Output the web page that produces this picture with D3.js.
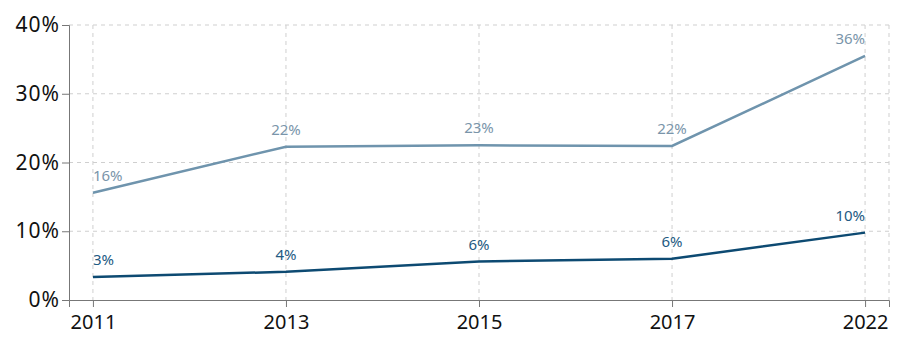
<!DOCTYPE html>
<html>
<head>
<meta charset="utf-8"/>
<script src="https://d3js.org/d3.v7.min.js"></script>
<style>
  body { margin: 0; background: #fff; }
  svg text { font-family: "Noto Sans", sans-serif; }
  .grid line { stroke: #cfcfcf; stroke-dasharray: 4,4; }
  .axis path, .axis line { stroke: #777; }
</style>
</head>
<body>
<svg width="903" height="355"></svg>
<script>
  // datos
  const years = ["2011", "2013", "2015", "2017", "2022"];
  const upper = [15.6, 22.3, 22.5, 22.4, 35.5];
  const lower = [3.35, 4.1, 5.6, 6.0, 9.8];
  const upperLabels = ["16%", "22%", "23%", "22%", "36%"];
  const lowerLabels = ["3%", "4%", "6%", "6%", "10%"];
  const yTicks = [0, 10, 20, 30, 40];

  const mLeft = 69, mRight = 889, mTop = 25, mBottom = 300;
  const svg = d3.select("svg");

  const x = d3.scalePoint().domain(years).range([mLeft, mRight]).padding(0.124);
  const y = d3.scaleLinear().domain([0, 40]).range([mBottom, mTop]);

  // grid
  const grid = svg.append("g").attr("class", "grid");
  grid.selectAll(".h").data(yTicks.slice(1)).join("line")
    .attr("x1", mLeft).attr("x2", mRight)
    .attr("y1", d => y(d)).attr("y2", d => y(d));
  grid.selectAll(".v").data(years).join("line")
    .attr("x1", d => x(d)).attr("x2", d => x(d))
    .attr("y1", mTop).attr("y2", mBottom);
  grid.append("line").attr("x1", mRight).attr("x2", mRight).attr("y1", mTop).attr("y2", mBottom);

  // ejes
  svg.append("g").attr("class", "axis")
    .attr("transform", "translate(0," + mBottom + ")")
    .call(d3.axisBottom(x).tickSizeOuter(0).tickSize(7).tickPadding(8))
    .call(g => g.selectAll("text").attr("font-size", 20).attr("fill", "#111"));
  svg.append("g").attr("class", "axis")
    .attr("transform", "translate(" + mLeft + ",0)")
    .call(d3.axisLeft(y).tickValues(yTicks).tickFormat(d => d + "%").tickSizeOuter(0).tickSize(7).tickPadding(2))
    .call(g => g.selectAll("text").attr("font-size", 21).attr("letter-spacing", 1).attr("fill", "#111"));

  function drawSeries(vals, labels, lineColor, labelColor) {
    const data = years.map((yr, i) => ({yr: yr, v: vals[i], t: labels[i]}));
    svg.append("path")
      .attr("d", d3.line().x(d => x(d.yr)).y(d => y(d.v))(data))
      .attr("fill", "none").attr("stroke", lineColor).attr("stroke-width", 2.5);
    svg.append("g").selectAll("text").data(data).join("text")
      .attr("x", d => x(d.yr))
      .attr("y", d => y(d.v) - 12)
      .attr("text-anchor", (d, i) => i === 0 ? "start" : (i === data.length - 1 ? "end" : "middle"))
      .attr("font-size", 15)
      .attr("fill", labelColor)
      .text(d => d.t);
  }

  drawSeries(upper, upperLabels, "#6f94ad", "#7a95aa");
  drawSeries(lower, lowerLabels, "#0d4a72", "#235a82");
</script>
</body>
</html>
